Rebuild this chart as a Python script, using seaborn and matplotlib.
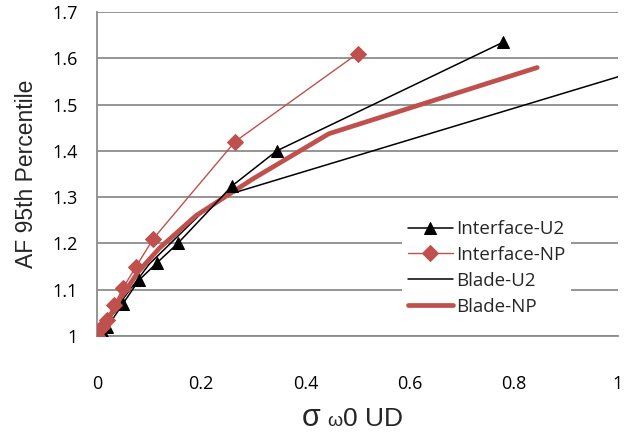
import matplotlib
matplotlib.use("Agg")
import matplotlib.pyplot as plt
import seaborn as sns
import numpy as np

# ---- data ----
iu2_x = [0.0, 0.01, 0.02, 0.05, 0.08, 0.115, 0.155, 0.26, 0.345, 0.78]
iu2_y = [1.0, 1.01, 1.02, 1.07, 1.12, 1.158, 1.20, 1.325, 1.40, 1.635]

inp_x = [0.0, 0.01, 0.02, 0.033, 0.05, 0.075, 0.108, 0.265, 0.50]
inp_y = [1.0, 1.02, 1.035, 1.067, 1.104, 1.15, 1.21, 1.42, 1.61]

bu2_x = [0.0, 0.02, 0.05, 0.10, 0.20, 0.25, 1.0]
bu2_y = [1.0, 1.03, 1.08, 1.155, 1.265, 1.305, 1.56]

bnp_x = [0.0, 0.02, 0.05, 0.08, 0.12, 0.19, 0.30, 0.445, 0.845]
bnp_y = [1.0, 1.035, 1.09, 1.14, 1.19, 1.26, 1.34, 1.437, 1.58]

x_ticks = [0, 0.2, 0.4, 0.6, 0.8, 1]
x_labels = ["0", "0.2", "0.4", "0.6", "0.8", "1"]
y_ticks = [1, 1.1, 1.2, 1.3, 1.4, 1.5, 1.6, 1.7]
y_labels = ["1", "1.1", "1.2", "1.3", "1.4", "1.5", "1.6", "1.7"]

sns.set_style("white")
plt.rcParams['font.family'] = ['Open Sans', 'DejaVu Sans']

RED = "#C0504D"
GRID = "#8C8C8C"

fig = plt.figure(figsize=(6.37, 4.36), dpi=100)
ax = fig.add_axes([97/637, 1 - 336/436, (618-97)/637, (336-12)/436])

sns.lineplot(x=iu2_x, y=iu2_y, ax=ax, color="black", lw=1.1, marker="^",
             markersize=9, markeredgecolor="black", sort=False, label="Interface-U2", zorder=4)
sns.lineplot(x=inp_x, y=inp_y, ax=ax, color=RED, lw=1.0, marker="D",
             markersize=8, markeredgecolor=RED, sort=False, label="Interface-NP", zorder=5)
sns.lineplot(x=bu2_x, y=bu2_y, ax=ax, color="black", lw=1.1, sort=False,
             label="Blade-U2", zorder=3)
sns.lineplot(x=bnp_x, y=bnp_y, ax=ax, color=RED, lw=3.4, sort=False,
             label="Blade-NP", zorder=3, solid_capstyle="round")

ax.set_xlim(0, 1)
ax.set_ylim(1, 1.7)
ax.set_xticks(x_ticks)
ax.set_xticklabels(x_labels)
ax.set_yticks(y_ticks)
ax.set_yticklabels(y_labels)
ax.tick_params(axis="both", labelsize=13, colors=GRID, labelcolor="black",
               direction="out", length=5, width=1.2)
ax.tick_params(axis="x", pad=23)
ax.tick_params(axis="y", pad=9)
ax.grid(axis="y", color=GRID, lw=1.3)
ax.set_axisbelow(True)
for s in ["top", "right"]:
    ax.spines[s].set_visible(False)
for s in ["left", "bottom"]:
    ax.spines[s].set_color(GRID)
    ax.spines[s].set_linewidth(1.3)

ax.set_ylabel("AF 95th Percentile", fontsize=16.5, labelpad=10,
              family=["Liberation Sans", "DejaVu Sans"])
ax.set_xlabel("")

leg = ax.legend(loc="center", bbox_to_anchor=(0.748, 0.21), frameon=True,
                fontsize=13.5, handlelength=2.4, handletextpad=0.2,
                labelspacing=0.42, borderpad=0.3)
leg.get_frame().set_facecolor("white")
leg.get_frame().set_edgecolor("none")
leg.get_frame().set_alpha(1)

# x-axis label composed of pieces of different sizes
fig.canvas.draw()
renderer = fig.canvas.get_renderer()
pieces = [("σ", 22), (" ", 18), ("ω", 14), ("0 UD", 19)]
xpix = 302.0
base_y = (436 - 426) / 436
for txt, fs in pieces:
    t = fig.text(xpix / 637, base_y, txt, fontsize=fs, ha="left", va="baseline",
                 family=["Liberation Sans", "DejaVu Sans"])
    bb = t.get_window_extent(renderer=renderer)
    if txt == " ":
        xpix += fs * 100 / 72 * 0.28
    else:
        xpix += bb.width

fig.savefig("out.png", dpi=100)
